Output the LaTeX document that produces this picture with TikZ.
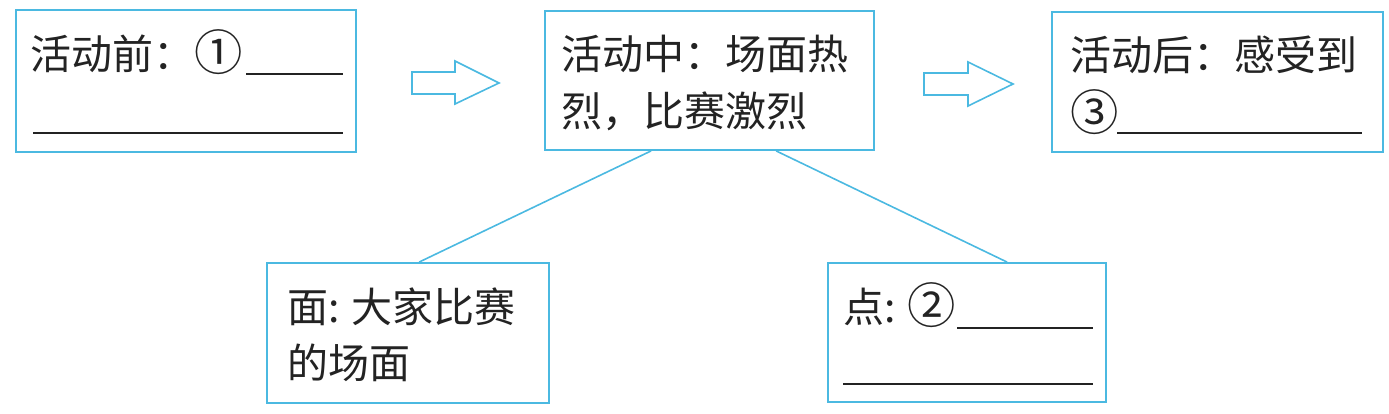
\documentclass[tikz,border=0pt]{standalone}
\usepackage{fontspec}
\setmainfont{Noto Sans CJK SC}
\definecolor{cy}{RGB}{75,185,225}
\definecolor{ink}{RGB}{35,35,35}
\newcommand{\circnum}[1]{\raisebox{-1pt}{\scalebox{1.18}{#1}}}
\begin{document}
\begin{tikzpicture}[x=1pt,y=-1pt,
  box/.style={draw=cy, line width=1.8pt, inner sep=0pt, rectangle},
  link/.style={draw=cy, line width=1.6pt},
  blockarrow/.style={draw=cy, line width=1.6pt, line join=miter},
  txt/.style={anchor=base west, inner sep=0pt, text=ink, font=\fontsize{41}{44}\selectfont},
  blank/.style={draw=ink, line width=1.8pt}]
\useasboundingbox (0,0) rectangle (1389,414);
% boxes
\node[box, minimum width=340pt, minimum height=142pt] (b1) at (186,81) {};
\node[box, minimum width=329pt, minimum height=139pt] (b2) at (709.5,80.5) {};
\node[box, minimum width=331pt, minimum height=140pt] (b5) at (1217.5,82) {};
\node[box, minimum width=282pt, minimum height=140pt] (b3) at (408,333) {};
\node[box, minimum width=278pt, minimum height=139pt] (b4) at (967,332.5) {};
% connectors
\draw[link] ([xshift=107pt]b2.south west) -- ([xshift=153pt]b3.north west);
\draw[link] ([xshift=232pt]b2.south west) -- ([xshift=180pt]b4.north west);
% block arrows
\draw[blockarrow] (412,72) -- (455,72) -- (455,61) -- (499,83) -- (455,104) -- (455,94) -- (412,94) -- cycle;
\draw[blockarrow] (924,73) -- (968,73) -- (968,62) -- (1013,84) -- (968,106) -- (968,95) -- (924,95) -- cycle;
% texts
\node[txt] (t1) at (30,70) {活动前：\circnum{①}};
\node[txt] (t2a) at (561,70) {活动中：场面热};
\node[txt] (t2b) at (561,127) {烈，比赛激烈};
\node[txt] (t5a) at (1070,71) {活动后：感受到};
\node[txt] (t5b) at (1070,130) {\circnum{③}};
\node[txt] (t3a) at (287,322) {面: 大家比赛};
\node[txt] (t3b) at (287,378) {的场面};
\node[txt] (t4) at (843,322) {点: \circnum{②}};
% blanks
\draw[blank] (246,74) -- (343,74);
\draw[blank] (33,133) -- (343,133);
\draw[blank] (1117,133) -- (1362,133);
\draw[blank] (957,328) -- (1093,328);
\draw[blank] (843,384) -- (1093,384);
\end{tikzpicture}
\end{document}
